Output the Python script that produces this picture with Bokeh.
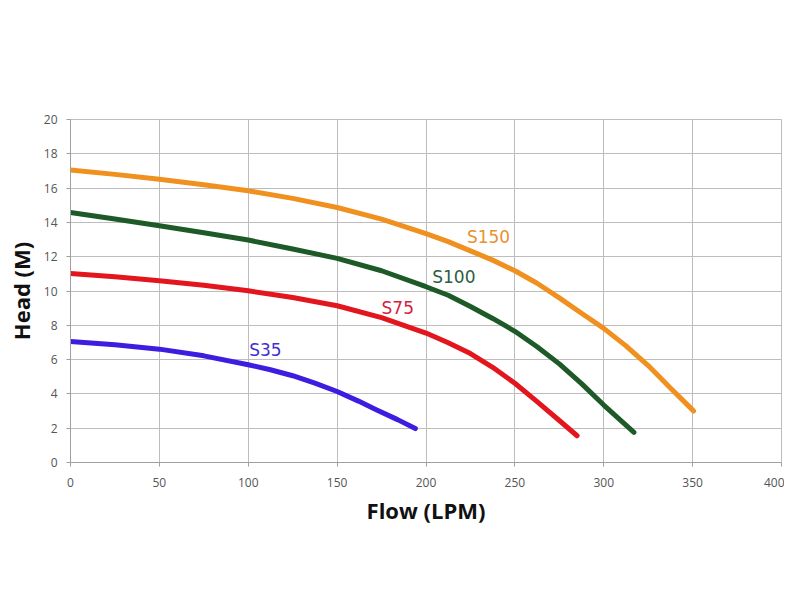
from bokeh.plotting import figure
from bokeh.models import FixedTicker, Range1d, Label
from bokeh.embed import file_html
from bokeh.resources import INLINE

# pump curves (flow LPM, head M)
s35_flow = [0, 25, 50, 75, 100, 112.5, 125, 137.5, 150, 162, 172, 184, 194]
s35_head = [7.06, 6.86, 6.61, 6.22, 5.7, 5.41, 5.06, 4.63, 4.14, 3.58, 3.08, 2.5, 1.98]

s75_flow = [0, 25, 50, 75, 100, 125, 150, 175, 200, 212.5, 225, 237.5, 250, 262.5, 275, 285]
s75_head = [11.02, 10.83, 10.6, 10.33, 10.01, 9.62, 9.14, 8.45, 7.55, 6.98, 6.35, 5.55, 4.62, 3.55, 2.45, 1.56]

s100_flow = [0, 25, 50, 75, 100, 125, 150, 175, 200, 212.5, 225, 237.5, 250, 262.5, 275, 287.5, 300, 317]
s100_head = [14.58, 14.2, 13.8, 13.4, 12.97, 12.45, 11.9, 11.18, 10.25, 9.75, 9.1, 8.4, 7.65, 6.75, 5.75, 4.6, 3.35, 1.76]

s150_flow = [0, 25, 50, 75, 100, 125, 150, 175, 200, 212.5, 225, 237.5, 250, 262.5, 275, 287.5, 300,
             312.5, 325, 337.5, 350.5]
s150_head = [17.05, 16.8, 16.52, 16.2, 15.84, 15.4, 14.87, 14.19, 13.35, 12.88, 12.34, 11.8, 11.18, 10.45,
             9.6, 8.7, 7.82, 6.8, 5.65, 4.35, 3.01]

series = [
    ("S35", s35_flow, s35_head, "#3b1ee0", (100.5, 6.0)),
    ("S75", s75_flow, s75_head, "#e3161e", (175, 8.45)),
    ("S100", s100_flow, s100_head, "#1d5a28", (203.5, 10.25)),
    ("S150", s150_flow, s150_head, "#f0901e", (223, 12.55)),
]
label_colors = {"S35": "#3d2fd2", "S75": "#d8203c", "S100": "#2a5e42", "S150": "#e8922f"}

x_ticks = [0, 50, 100, 150, 200, 250, 300, 350, 400]
y_ticks = [0, 2, 4, 6, 8, 10, 12, 14, 16, 18, 20]

p = figure(width=784, height=584, output_backend="svg", toolbar_location=None,
           x_range=Range1d(0, 400), y_range=Range1d(0, 20))
p.min_border_left = 70
p.min_border_right = 3
p.min_border_top = 119
p.min_border_bottom = 122

for name, xs, ys, color, (lx, ly) in series:
    p.line(xs, ys, line_color=color, line_width=5, line_cap="round", line_join="round")
    p.add_layout(Label(x=lx, y=ly, text=name, text_color=label_colors[name],
                       text_font="DejaVu Sans", text_font_size="17px"))

p.xaxis.ticker = FixedTicker(ticks=x_ticks)
p.yaxis.ticker = FixedTicker(ticks=y_ticks)
p.xaxis.axis_label = "Flow (LPM)"
p.yaxis.axis_label = "Head (M)"
for ax in (p.xaxis, p.yaxis):
    ax.axis_label_text_font = "Open Sans"
    ax.axis_label_text_font_style = "bold"
    ax.axis_label_text_font_size = "22px"
    ax.axis_label_text_color = "#111111"
    ax.major_label_text_font = "Open Sans"
    ax.major_label_text_font_size = "12px"
    ax.major_label_text_color = "#555555"
    ax.axis_line_color = "#a0a0a0"
    ax.major_tick_line_color = "#a0a0a0"
    ax.major_tick_out = 4
    ax.major_tick_in = 0
    ax.minor_tick_line_color = None
p.xaxis.major_label_standoff = 11
p.yaxis.major_label_standoff = 9
p.xaxis.axis_label_standoff = 5
p.yaxis.axis_label_standoff = 5

p.grid.grid_line_color = "#bdbdbd"
p.grid.grid_line_width = 1
p.outline_line_color = "#bdbdbd"

open("out.html", "w").write(file_html(p, INLINE))
